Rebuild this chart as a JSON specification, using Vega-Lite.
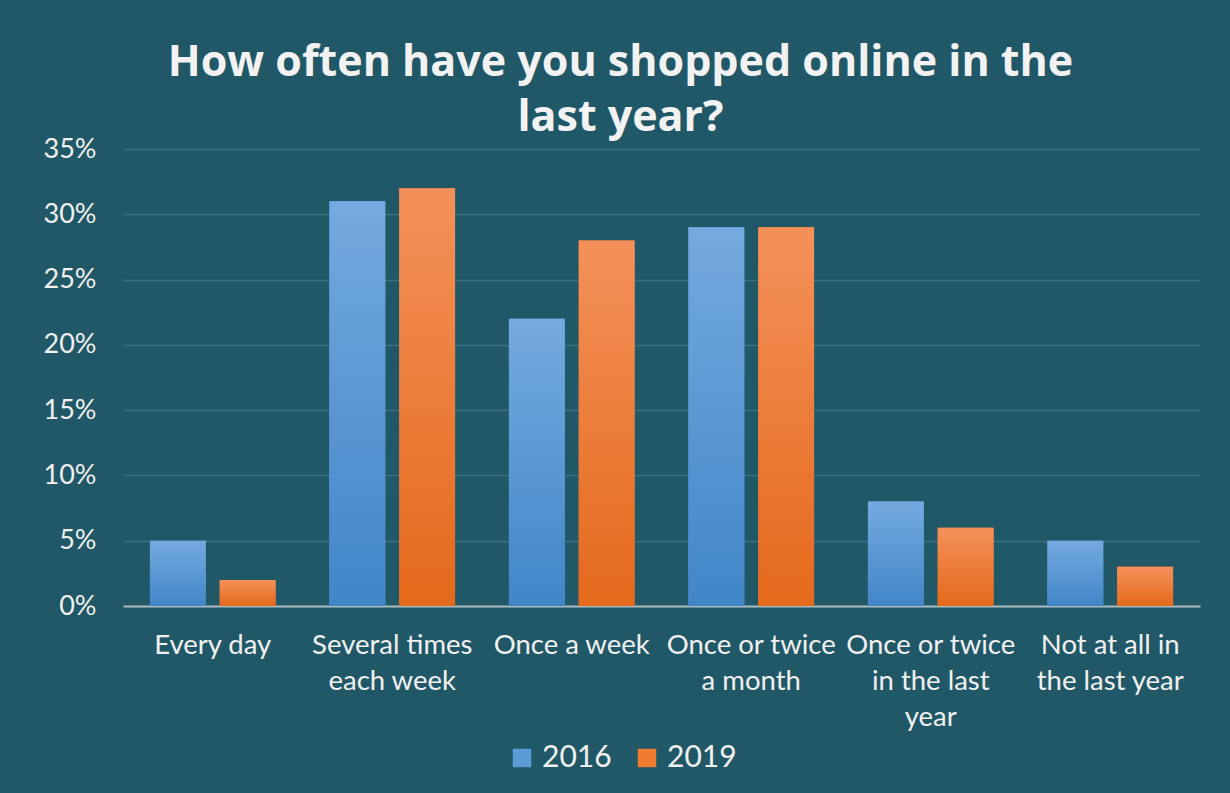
{
  "$schema": "https://vega.github.io/schema/vega-lite/v6.json",
  "width": 1077,
  "height": 457,
  "autosize": {"type": "none"},
  "padding": {"left": 123, "top": 149, "right": 30, "bottom": 187},
  "background": "#215867",
  "config": {"view": {"stroke": null}},
  "title": {
    "text": ["How often have you shopped online in the", "last year?"],
    "font": "Open Sans",
    "fontSize": 43,
    "fontWeight": "bold",
    "color": "#F2F2F2",
    "lineHeight": 55,
    "anchor": "middle",
    "dx": -41,
    "offset": -5
  },
  "data": {
    "values": [
      {"category": "Every day", "year": "2016", "value": 0.05},
      {"category": "Every day", "year": "2019", "value": 0.02},
      {"category": "Several times each week", "year": "2016", "value": 0.31},
      {"category": "Several times each week", "year": "2019", "value": 0.32},
      {"category": "Once a week", "year": "2016", "value": 0.22},
      {"category": "Once a week", "year": "2019", "value": 0.28},
      {"category": "Once or twice a month", "year": "2016", "value": 0.29},
      {"category": "Once or twice a month", "year": "2019", "value": 0.29},
      {"category": "Once or twice in the last year", "year": "2016", "value": 0.08},
      {"category": "Once or twice in the last year", "year": "2019", "value": 0.06},
      {"category": "Not at all in the last year", "year": "2016", "value": 0.05},
      {"category": "Not at all in the last year", "year": "2019", "value": 0.03}
    ]
  },
  "encoding": {
    "x": {
      "field": "category",
      "type": "nominal",
      "sort": null,
      "scale": {"paddingInner": 0.3, "paddingOuter": 0.15},
      "axis": {
        "title": null,
        "labelAngle": 0,
        "labelFont": "Lato",
        "labelFontSize": 27.5,
        "labelColor": "#F0F0F0",
        "labelLineHeight": 36,
        "labelPadding": 39,
        "labelBaseline": "middle",
        "ticks": false,
        "domainColor": "#A9B9BD",
        "domainWidth": 2,
        "labelExpr": "datum.value == 'Several times each week' ? ['Several times', 'each week'] : datum.value == 'Once or twice a month' ? ['Once or twice', 'a month'] : datum.value == 'Once or twice in the last year' ? ['Once or twice', 'in the last', 'year'] : datum.value == 'Not at all in the last year' ? ['Not at all in', 'the last year'] : datum.value"
      }
    },
    "xOffset": {
      "field": "year",
      "type": "nominal",
      "scale": {"domain": ["2016", "2019"], "paddingInner": 0.2}
    },
    "y": {
      "field": "value",
      "type": "quantitative",
      "scale": {"domain": [0, 0.35], "nice": false},
      "axis": {
        "title": null,
        "format": ".0%",
        "values": [0, 0.05, 0.1, 0.15, 0.2, 0.25, 0.3, 0.35],
        "labelFont": "Lato",
        "labelFontSize": 27,
        "labelColor": "#F0F0F0",
        "labelPadding": 27,
        "ticks": false,
        "domain": false,
        "gridColor": "#3C7080",
        "gridWidth": 1.5
      }
    }
  },
  "layer": [
    {
      "mark": {"type": "bar"},
      "encoding": {
        "color": {
          "field": "year",
          "type": "nominal",
          "scale": {"domain": ["2016", "2019"], "range": ["#5B9BD8", "#EE7B30"]},
          "legend": {
            "title": null,
            "orient": "none",
            "legendX": 384,
            "legendY": 594,
            "direction": "horizontal",
            "symbolType": "square",
            "symbolSize": 340,
            "symbolStrokeWidth": 0,
            "labelFont": "Lato",
            "labelFontSize": 30,
            "labelColor": "#F0F0F0",
            "labelOffset": 5,
            "columnPadding": 20
          }
        }
      }
    },
    {
      "transform": [{"filter": "datum.year == '2016'"}],
      "mark": {
        "type": "bar",
        "color": {
          "gradient": "linear",
          "x1": 0, "y1": 0, "x2": 0, "y2": 1,
          "stops": [
            {"offset": 0, "color": "#74AADF"},
            {"offset": 1, "color": "#4186C8"}
          ]
        }
      }
    },
    {
      "transform": [{"filter": "datum.year == '2019'"}],
      "mark": {
        "type": "bar",
        "color": {
          "gradient": "linear",
          "x1": 0, "y1": 0, "x2": 0, "y2": 1,
          "stops": [
            {"offset": 0, "color": "#F4915A"},
            {"offset": 1, "color": "#E4691B"}
          ]
        }
      }
    }
  ]
}
